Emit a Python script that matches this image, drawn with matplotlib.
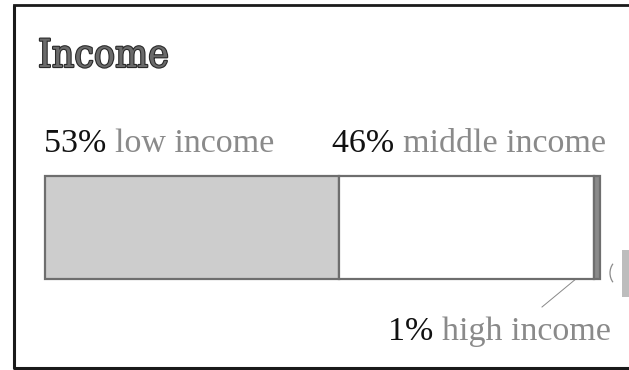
import matplotlib
matplotlib.use("Agg")
import matplotlib.pyplot as plt
import matplotlib.patheffects as pe
from matplotlib.patches import Rectangle, Arc

title = "Income"
categories = ["low income", "middle income", "high income"]
shares = [53, 46, 1]
share_labels = ["53%", "46%", "1%"]

W, H = 629, 370
fig = plt.figure(figsize=(W / 100, H / 100), dpi=100)
fig.patch.set_facecolor("white")

# overlay axes in pixel coordinates (y down)
ov = fig.add_axes([0, 0, 1, 1])
ov.set_xlim(0, W)
ov.set_ylim(H, 0)
ov.axis("off")

# frame (right side cut off)
ov.plot([14, 14, 640], [5, 368, 368], color="#1a1a1a", lw=2.2, solid_capstyle="butt")
ov.plot([14, 640], [5, 5], color="#1a1a1a", lw=2.0)

# title
t = ov.text(38, 67, title, fontsize=28, fontfamily="DejaVu Serif", fontweight="normal",
            fontstretch="condensed", color="#6a6a6a", ha="left", va="baseline")
t.set_path_effects([pe.withStroke(linewidth=1.6, foreground="#2a2a2a")])

# bar axes: 0..100 maps to x 45..600, bar between y 176..279
x0, x1 = 45, 600
y0, y1 = 176, 279
bax = fig.add_axes([x0 / W, 1 - y1 / H, (x1 - x0) / W, (y1 - y0) / H])
bax.set_xlim(0, sum(shares))
bax.set_ylim(0, 1)
bax.axis("off")

fills = ["#cdcdcd", "#ffffff", "#8a8a8a"]
left = 0
for v, fc in zip(shares, fills):
    bax.barh(0.5, v, left=left, height=1.0, color=fc, edgecolor="#6e6e6e",
             linewidth=1.6, clip_on=False)
    left += v

# labels
serif = "Liberation Serif"
fs = 24.5


def label(x, y, pct, name):
    t1 = ov.text(x, y, pct + " ", fontsize=fs, fontfamily=serif, color="#111111",
                 ha="left", va="baseline")
    fig.canvas.draw()
    bb = t1.get_window_extent()
    ov.text(x + bb.width, y, name, fontsize=fs, fontfamily=serif, color="#8a8a8a",
            ha="left", va="baseline")


label(44, 152, share_labels[0], categories[0])
label(332, 152, share_labels[1], categories[1])
label(388, 340, share_labels[2], categories[2])

# leader line from high-income segment to its label
ov.plot([594, 542], [264, 307], color="#888888", lw=0.7)

# partial element cut off at right edge
ov.add_patch(Rectangle((622, 250), 12, 47, facecolor="#bdbdbd", edgecolor="none"))
ov.add_patch(Arc((624, 273), 28, 30, theta1=140, theta2=220, color="#8a8a8a", lw=0.9))

fig.savefig("out.png", dpi=100, facecolor="white")
